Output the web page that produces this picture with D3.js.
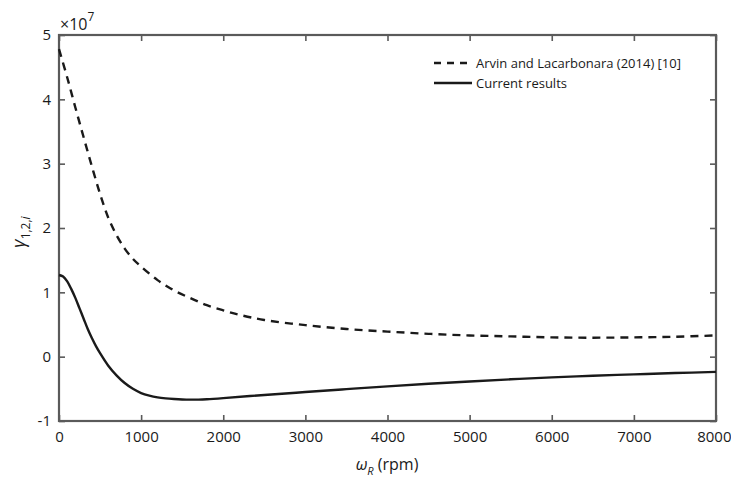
<!DOCTYPE html>
<html>
<head>
<meta charset="utf-8">
<script src="https://cdn.jsdelivr.net/npm/d3@7"></script>
<style>
  body { margin: 0; background: #fff; }
  text { font-family: "Open Sans", "Noto Sans", sans-serif; fill: #1a1a1a; }
</style>
</head>
<body>
<script>
// Rotor speed samples (rpm) and coefficient values in units of 1e7
const rpmRef = [0, 100, 200, 300, 400, 500, 600, 700, 800, 900, 1000, 1200, 1400, 1600, 1800, 2000, 2200, 2500,
                3000, 3500, 4000, 4500, 5000, 5500, 6000, 6500, 7000, 7500, 8000];
const gammaRef = [4.78, 4.34, 3.87, 3.41, 2.96, 2.53, 2.16, 1.89, 1.68, 1.52, 1.40, 1.19, 1.03, 0.91, 0.80, 0.72, 0.65, 0.57,
                  0.49, 0.43, 0.39, 0.355, 0.33, 0.315, 0.30, 0.295, 0.30, 0.31, 0.33];

const rpmCur = [0, 50, 100, 150, 200, 250, 300, 350, 400, 450, 500, 600, 700, 800, 900, 1000, 1100, 1200, 1300,
                1400, 1500, 1600, 1700, 1800, 2000, 2500, 3000, 3500, 4000, 4500, 5000, 5500, 6000, 6500, 7000,
                7500, 8000];
const gammaCur = [1.27, 1.245, 1.17, 1.05, 0.91, 0.75, 0.59, 0.43, 0.29, 0.165, 0.055, -0.14, -0.29, -0.41, -0.50,
                  -0.565, -0.605, -0.632, -0.648, -0.658, -0.665, -0.668, -0.667, -0.662, -0.645, -0.595, -0.55,
                  -0.505, -0.462, -0.422, -0.385, -0.352, -0.322, -0.297, -0.275, -0.255, -0.237];

const xTicks = [0, 1000, 2000, 3000, 4000, 5000, 6000, 7000, 8000];
const yTicks = [-1, 0, 1, 2, 3, 4, 5];
const exponent = 7;

const legendLabels = ["Arvin and Lacarbonara (2014) [10]", "Current results"];

const W = 731, H = 480;
const svg = d3.select("body").append("svg").attr("width", W).attr("height", H);

const x = d3.scaleLinear().domain([0, 8000]).range([59, 716]);
const y = d3.scaleLinear().domain([-1, 5]).range([421, 35]);

const axisColor = "#5a5a5a";
const fmt = d => String(d);

// Axes on all four sides with inward ticks
const gB = svg.append("g").attr("transform", `translate(0,${y(-1)})`)
  .call(d3.axisBottom(x).tickValues(xTicks).tickFormat(fmt).tickSize(-6).tickSizeOuter(0).tickPadding(10));
const gL = svg.append("g").attr("transform", `translate(${x(0)},0)`)
  .call(d3.axisLeft(y).tickValues(yTicks).tickFormat(fmt).tickSize(-6).tickSizeOuter(0).tickPadding(8));
const gT = svg.append("g").attr("transform", `translate(0,${y(5)})`)
  .call(d3.axisTop(x).tickValues(xTicks).tickSize(-6).tickSizeOuter(0).tickFormat(""));
const gR = svg.append("g").attr("transform", `translate(${x(8000)},0)`)
  .call(d3.axisRight(y).tickValues(yTicks).tickSize(-6).tickSizeOuter(0).tickFormat(""));

[gB, gL, gT, gR].forEach(g => {
  g.select(".domain").remove();
  g.selectAll(".tick line").attr("stroke", axisColor).attr("stroke-width", 1.6);
  g.selectAll(".tick text").style("font-size", "15px").attr("fill", "#1a1a1a");
});
// keep the last bottom label inside the page
gB.selectAll(".tick text").filter(d => d === 8000).attr("text-anchor", "end").attr("dx", 15);

svg.append("rect")
  .attr("x", x(0)).attr("y", y(5))
  .attr("width", x(8000) - x(0)).attr("height", y(-1) - y(5))
  .attr("fill", "none").attr("stroke", axisColor).attr("stroke-width", 2.2);

// Scale factor label
const sf = svg.append("text").attr("x", x(0) + 1).attr("y", y(5) - 5).style("font-size", "16px");
sf.append("tspan").text("\u00d710");
sf.append("tspan").attr("dy", -9).style("font-size", "12px").text(exponent);

// Curves
const line = d3.line().x(d => x(d[0])).y(d => y(d[1])).curve(d3.curveCatmullRom.alpha(0.5));

svg.append("path")
  .datum(d3.zip(rpmRef, gammaRef))
  .attr("d", line).attr("fill", "none")
  .attr("stroke", "#1a1a1a").attr("stroke-width", 2.4)
  .attr("stroke-dasharray", "8,6");

svg.append("path")
  .datum(d3.zip(rpmCur, gammaCur))
  .attr("d", line).attr("fill", "none")
  .attr("stroke", "#1a1a1a").attr("stroke-width", 2.4);

// Legend
const legend = svg.append("g").attr("transform", "translate(434,63)");
legendLabels.forEach((lab, i) => {
  const gy = i * 20;
  legend.append("line").attr("x1", 0).attr("x2", 38).attr("y1", gy).attr("y2", gy)
    .attr("stroke", "#1a1a1a").attr("stroke-width", 2.4)
    .attr("stroke-dasharray", i === 0 ? "7,6" : null);
  legend.append("text").attr("x", 42).attr("y", gy).attr("dy", "0.35em")
    .style("font-size", "13px").text(lab);
});

// Axis titles
const xl = svg.append("text").attr("x", 387).attr("y", 470)
  .attr("text-anchor", "middle").style("font-size", "16px");
xl.append("tspan").style("font-style", "italic").text("\u03c9");
xl.append("tspan").attr("dy", 5).style("font-size", "11px").style("font-style", "italic").text("R");
xl.append("tspan").attr("dy", -5).text(" (rpm)");

const yl = svg.append("text")
  .attr("transform", `translate(25,232) rotate(-90)`)
  .attr("text-anchor", "middle").style("font-size", "18px");
yl.append("tspan").style("font-style", "italic").text("\u03b3");
yl.append("tspan").attr("dy", 5).style("font-size", "12px").text("1,2,");
yl.append("tspan").style("font-size", "12px").style("font-style", "italic").text("i");
</script>
</body>
</html>
